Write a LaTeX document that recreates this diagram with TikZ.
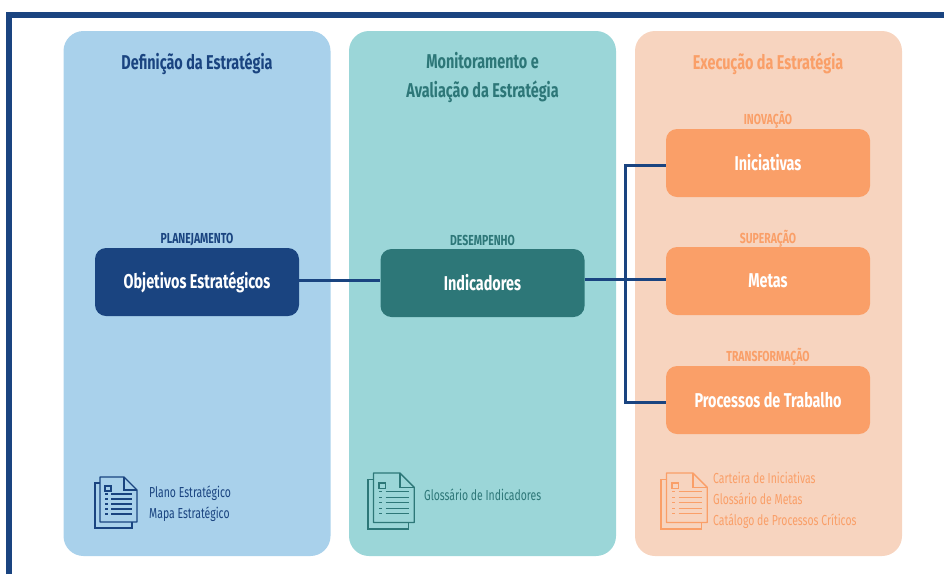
\documentclass[tikz,border=0pt]{standalone}
\usepackage{fontspec}
\setmainfont[FakeStretch=0.72]{Fira Sans}
\usepackage{tikz}
\usetikzlibrary{positioning}
\definecolor{navy}{HTML}{1A4480}
\definecolor{panelblue}{HTML}{A9D1EB}
\definecolor{panelteal}{HTML}{9BD6D8}
\definecolor{panelpeach}{HTML}{F7D4BF}
\definecolor{darkteal}{HTML}{2D7778}
\definecolor{orange}{HTML}{FA9F68}
\tikzset{
    panel/.style={minimum width=267pt,minimum height=525pt,rounded corners=20pt,inner sep=0pt},
    box/.style={minimum width=204pt,minimum height=68pt,rounded corners=11pt,inner sep=0pt,text=white,font=\fontsize{20}{24}\selectfont\bfseries},
    heading/.style={align=center,inner sep=0pt,font=\fontsize{20}{29}\selectfont\bfseries},
    tag/.style={inner sep=0pt,font=\fontsize{14.5}{16}\selectfont\bfseries},
    doclist/.style={align=left,anchor=west,inner sep=0pt,font=\fontsize{14.5}{21}\selectfont},
    link/.style={draw=navy,line width=3pt},
    pics/docicon/.style={code={
        \draw[#1,line width=1.4pt] (5,6) -- (0,6) -- (0,51) -- (37,51) -- (37,45);
        \draw[#1,line width=1.4pt,line join=round] (5,0) -- (29,0) -- (42,13) -- (42,45) -- (5,45) -- cycle;
        \draw[#1,line width=1.2pt] (29,0) -- (29,13) -- (42,13);
        \draw[#1,line width=1.4pt] (10,9) rectangle (16,14);
        \foreach \y in {17,22,27,32,37}
            \draw[#1,line width=1.2pt] (10,\y) -- (13,\y) (16,\y) -- (37,\y);
    }},
}

\begin{document}
\begin{tikzpicture}[x=1pt,y=-1pt]
    \useasboundingbox (0,0) rectangle (944,574);
    \draw[navy,line width=5.5pt] (9,574) -- (9,15) -- (944,15);

    \node[panel,fill=panelblue] (definicao) at (197,293.5) {};
    \node[panel,fill=panelteal] (monitoramento) at (482.5,293.5) {};
    \node[panel,fill=panelpeach] (execucao) at (768.5,293.5) {};

    \node[heading,text=navy] (titledefinicao) at (197,64) {Definição da Estratégia};
    \node[heading,text=darkteal] (titlemonitoramento) at (482.5,78) {Monitoramento e\\Avaliação da Estratégia};
    \node[heading,text=orange] (titleexecucao) at (768,64) {Execução da Estratégia};

    \node[box,fill=navy] (objetivos) at (197,282) {Objetivos Estratégicos};
    \node[box,fill=darkteal] (indicadores) at (482.5,283) {Indicadores};
    \node[box,fill=orange] (iniciativas) at (768,163) {Iniciativas};
    \node[box,fill=orange] (metas) at (768,281) {Metas};
    \node[box,fill=orange] (processos) at (768,400) {Processos de Trabalho};

    \node[tag,text=navy] (planejamento) at (197,240) {PLANEJAMENTO};
    \node[tag,text=darkteal] (desempenho) at (482.5,240) {DESEMPENHO};
    \node[tag,text=orange] (inovacao) at (768,120) {INOVAÇÃO};
    \node[tag,text=orange] (superacao) at (768,239) {SUPERAÇÃO};
    \node[tag,text=orange] (transformacao) at (768,357) {TRANSFORMAÇÃO};

    \coordinate (trunk) at (625,279);
    \draw[link] (objetivos.east |- 0,280) -- (indicadores.west |- 0,280);
    \draw[link] (indicadores.east |- trunk) -- (metas.west |- trunk);
    \draw[link] (iniciativas.west) ++(0,2) -- (trunk |- 0,165) -- (trunk |- 0,402) -- (processos.west |- 0,402);

    \pic at (95,477) {docicon=navy};
    \pic[scale=1.1] at (368,473) {docicon=darkteal};
    \pic[scale=1.1] at (661,473) {docicon=orange};

    \node[doclist,text=navy] (docsdefinicao) at (149,504) {Plano Estratégico\\Mapa Estratégico};
    \node[doclist,text=darkteal] (docsmonitoramento) at (424,495) {Glossário de Indicadores};
    \node[doclist,text=orange] (docsexecucao) at (713,500) {Carteira de Iniciativas\\Glossário de Metas\\Catálogo de Processos Críticos};
\end{tikzpicture}
\end{document}
